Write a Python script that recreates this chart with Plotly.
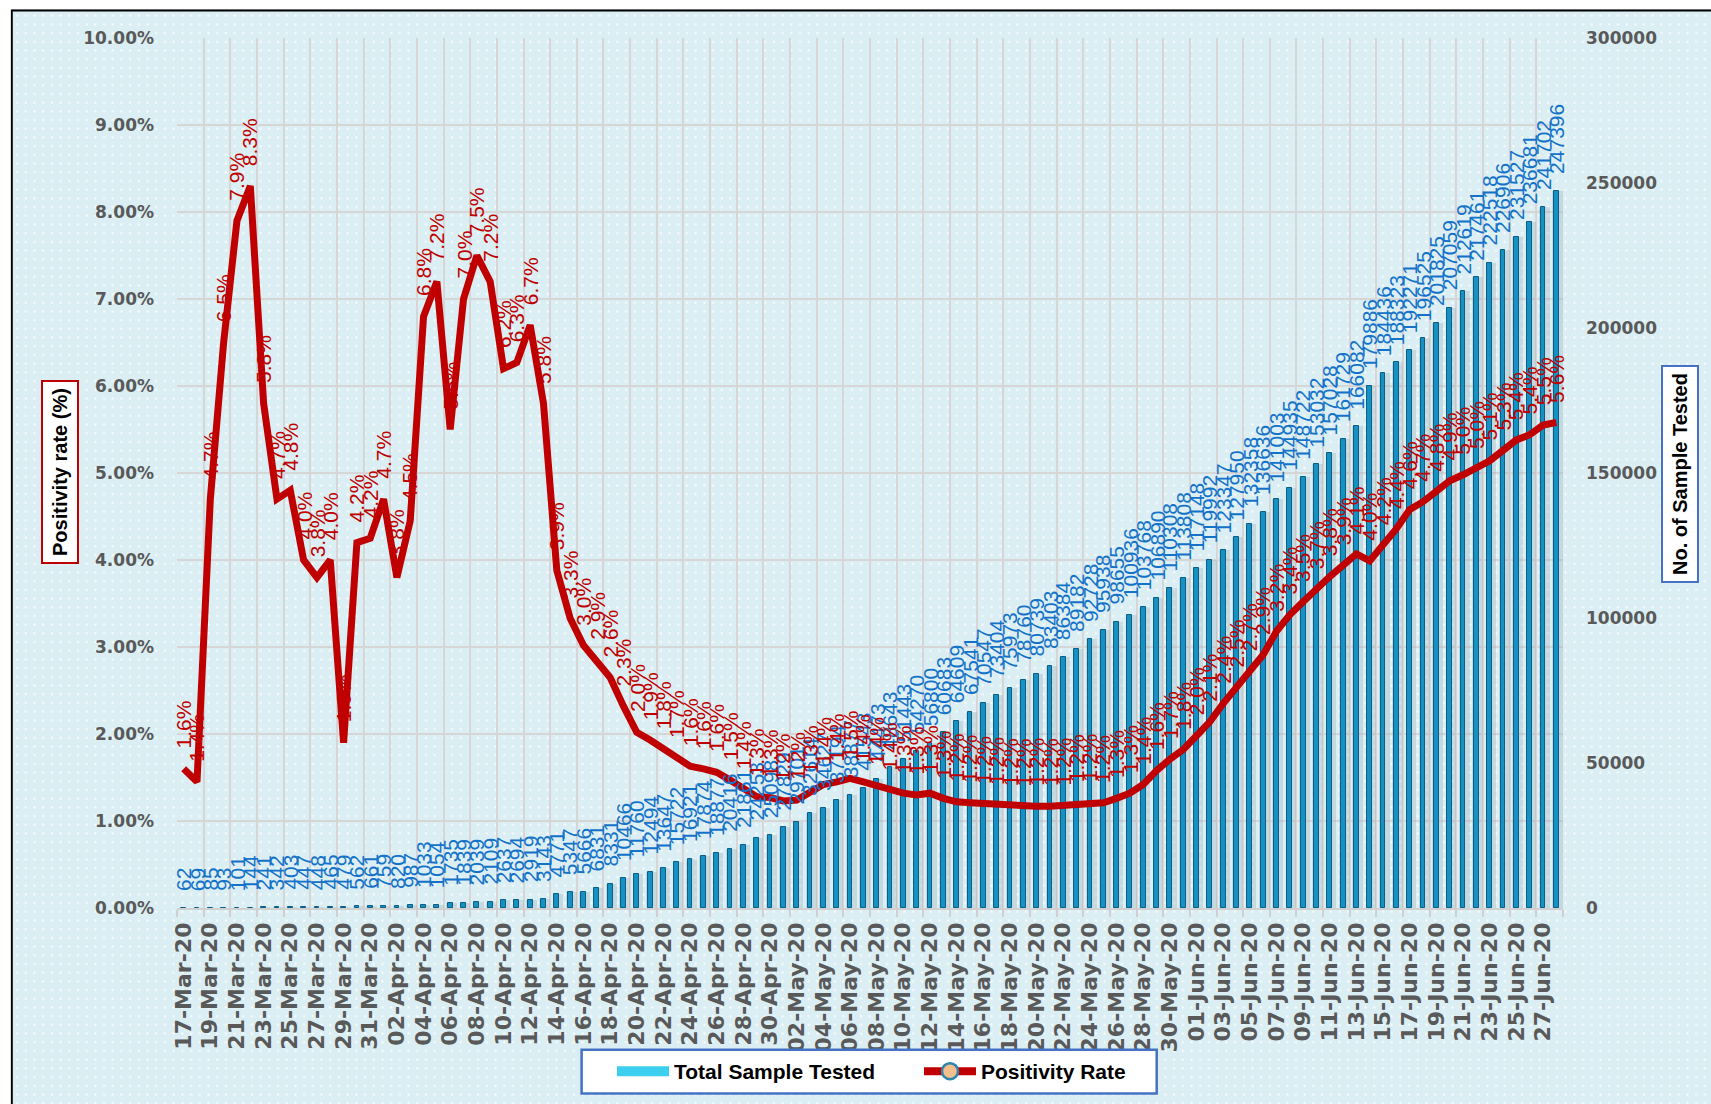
import base64
import pandas as pd
import plotly.graph_objects as go

# ---------------- data ----------------
dates = pd.date_range("2020-03-17", "2020-06-28", freq="D").strftime("%d-%b-%y").tolist()

total_samples = [
    62, 69, 85, 93, 101, 144, 241, 342, 403, 447, 448, 465, 479, 562, 661, 759,
    820, 987, 1033, 1054, 1735, 1839, 2039, 2109, 2637, 2694, 2919, 3143,
    4771, 5347, 5666, 6831, 8331, 10466, 11760, 12494, 13647, 15722, 16921, 17874,
    18877, 20416, 21861, 24253, 25098, 27829, 29701, 32614, 34627, 37194, 38877,
    41543, 44473, 48643, 51443, 54270, 56800, 60683, 64609, 67541, 70547, 73404,
    75973, 78760, 80739, 83403, 86384, 89182, 92728, 95938, 98655, 100936, 103768,
    106890, 110308, 113808, 117148, 119992, 123347, 127950, 132358, 136636, 141003,
    144935, 148722, 153032, 157028, 161729, 166082, 179886, 184436, 188323, 192271,
    196525, 201825, 207059, 212619, 217461, 222518, 226906, 231527, 236681, 241702,
    247396,
]

positivity_pct = [
    1.6, 1.45, 4.7, 6.5, 7.9, 8.3, 5.8, 4.7, 4.8, 4.0, 3.8, 4.0, 1.9, 4.2, 4.25,
    4.7, 3.8, 4.45, 6.8, 7.2, 5.5, 7.0, 7.5, 7.2, 6.2, 6.27, 6.7, 5.8, 3.88, 3.33,
    3.02, 2.85, 2.65, 2.32, 2.02, 1.93, 1.83, 1.72, 1.63, 1.6, 1.56, 1.47, 1.37,
    1.28, 1.27, 1.23, 1.24, 1.32, 1.42, 1.45, 1.49, 1.45, 1.41, 1.35, 1.32, 1.30,
    1.32, 1.26, 1.22, 1.21, 1.20, 1.18, 1.17, 1.17, 1.17, 1.17, 1.18, 1.21, 1.22,
    1.21, 1.26, 1.32, 1.42, 1.58, 1.71, 1.82, 1.98, 2.14, 2.35, 2.54, 2.72, 2.91,
    3.18, 3.37, 3.52, 3.67, 3.81, 3.94, 4.07, 3.99, 4.17, 4.36, 4.58, 4.67, 4.79,
    4.91, 4.98, 5.05, 5.14, 5.26, 5.38, 5.44, 5.55, 5.58,
]
positivity = [v / 100 for v in positivity_pct]

left_axis_max = 0.10
right_axis_max = 300000

# ---------------- styling constants ----------------
W, H = 1711, 1104
ML, MR, MT, MB = 177, 148, 38, 196
PW, PH = W - ML - MR, H - MT - MB


def px_x(p):
    return (p - ML) / PW


def px_y(p):
    return (H - MB - p) / PH


BG = "#DAEEF3"
RED = "#C00000"
BLUE_LBL = "#1473C8"
TICK = "#595959"
LAB_FONT = "Liberation Sans, Arial, sans-serif"
TICK_FONT = "DejaVu Sans, Verdana, sans-serif"

# dotted background as an inline svg
bw, bh = W - 10.7, H - 9.3
svg = f"""<svg xmlns='http://www.w3.org/2000/svg' width='{bw:.1f}' height='{bh:.1f}' viewBox='0 0 {bw:.1f} {bh:.1f}' preserveAspectRatio='none'>
<defs><pattern id='d' x='2' y='2' width='8.7' height='8.7' patternUnits='userSpaceOnUse'>
<rect x='3.4' y='3.4' width='1.9' height='1.9' fill='#ffffff'/></pattern></defs>
<rect width='{bw:.1f}' height='{bh:.1f}' fill='{BG}'/>
<rect width='{bw:.1f}' height='{bh:.1f}' fill='url(#d)'/>
<path d='M1,{bh:.1f} L1,1 L{bw:.1f},1' stroke='#000000' stroke-width='2.2' fill='none'/>
</svg>"""
svg_uri = "data:image/svg+xml;base64," + base64.b64encode(svg.encode()).decode()

fig = go.Figure()

# bar shadow
fig.add_trace(go.Bar(
    x=dates, y=total_samples, yaxis="y", width=0.8, offset=-0.3,
    marker=dict(color="rgba(140,160,172,0.28)", line=dict(width=0)),
    showlegend=False, hoverinfo="skip",
))
# bars
fig.add_trace(go.Bar(
    x=dates, y=total_samples, yaxis="y", width=0.36,
    marker=dict(color="#1591C4", line=dict(color="#0B5E86", width=1)),
    name="Total Sample Tested", showlegend=False,
))
# line
fig.add_trace(go.Scatter(
    x=dates, y=positivity, yaxis="y2", mode="lines",
    line=dict(color=RED, width=7),
    name="Positivity Rate", showlegend=False,
))
# dummy for right axis labels
fig.add_trace(go.Scatter(x=[dates[0]], y=[None], yaxis="y3", mode="markers",
                         showlegend=False, hoverinfo="skip"))
# legend entries
fig.add_trace(go.Scatter(
    x=[None], y=[None], yaxis="y2", mode="lines",
    line=dict(color="#3CCFEF", width=13), name="Total Sample Tested",
))
fig.add_trace(go.Scatter(
    x=[None], y=[None], yaxis="y2", mode="lines+markers",
    line=dict(color=RED, width=8),
    marker=dict(size=16, color="#F3BF8C", line=dict(color="#2C86AE", width=2.5)),
    name="Positivity Rate",
))

annotations = []
for d, v in zip(dates, total_samples):
    annotations.append(dict(
        x=d, y=v, xref="x", yref="y", text=str(v), textangle=-90,
        showarrow=False, yanchor="bottom", xanchor="center", yshift=15,
        font=dict(family=LAB_FONT, size=21, color=BLUE_LBL),
    ))
for d, v in zip(dates, positivity):
    annotations.append(dict(
        x=d, y=v, xref="x", yref="y2", text=f"{v*100:.1f}%", textangle=-90,
        showarrow=False, yanchor="bottom", xanchor="center", yshift=18,
        font=dict(family=LAB_FONT, size=21, color=RED),
    ))

# axis titles in boxes
annotations.append(dict(
    x=px_x(60), y=px_y(472), xref="paper", yref="paper", text="<b>Positivity rate (%)</b>",
    textangle=-90, showarrow=False, xanchor="center", yanchor="middle",
    font=dict(family=LAB_FONT, size=20, color="#000000"),
    bordercolor=RED, borderwidth=2, borderpad=6, bgcolor="#FFFFFF",
))
annotations.append(dict(
    x=px_x(1680.5), y=px_y(474.5), xref="paper", yref="paper", text="<b>No. of Sample Tested</b>",
    textangle=-90, showarrow=False, xanchor="center", yanchor="middle",
    font=dict(family=LAB_FONT, size=20, color="#000000"),
    bordercolor="#4472C4", borderwidth=2, borderpad=6, bgcolor="#FFFFFF",
))

shapes = [dict(
    type="rect", xref="paper", yref="paper",
    x0=px_x(581.6), x1=px_x(1156.7), y0=px_y(1093.4), y1=px_y(1049.7),
    fillcolor="#FFFFFF", line=dict(color="#4472C4", width=2.5), layer="above",
)]

images = [dict(
    source=svg_uri, xref="paper", yref="paper",
    x=px_x(10.7), y=px_y(9.3), sizex=bw / PW, sizey=bh / PH,
    xanchor="left", yanchor="top", sizing="stretch", layer="below",
)]

bold_tick = dict(family=TICK_FONT, size=17, color=TICK, weight="bold")

fig.update_layout(
    width=W, height=H,
    margin=dict(l=ML, r=MR, t=MT, b=MB, pad=0),
    paper_bgcolor="#FFFFFF", plot_bgcolor="rgba(0,0,0,0)",
    barmode="overlay", bargap=0,
    xaxis=dict(
        type="category", range=[-0.5, len(dates) - 0.5], tickson="boundaries",
        dtick=2, tick0=0, tickangle=-90, showgrid=True, gridcolor="#D6D6D6", gridwidth=1.6,
        ticks="outside", ticklen=7, tickcolor="#D0D0D0", tickwidth=1.5,
        showline=True, linecolor="#D0D0D0", linewidth=1.5,
        tickfont=dict(family=TICK_FONT, size=22, color=TICK, weight="bold"),
        ticklabelstandoff=4,
    ),
    yaxis=dict(
        range=[0, right_axis_max], dtick=30000, showgrid=True, gridcolor="#D6D6D6",
        gridwidth=1.6, showticklabels=False, zeroline=False, ticks="", side="right",
    ),
    yaxis2=dict(
        overlaying="y", side="left", range=[0, left_axis_max], dtick=0.01,
        tickformat=".2%", showgrid=False, zeroline=False, ticks="",
        tickfont=bold_tick, ticklabelstandoff=22,
    ),
    yaxis3=dict(
        overlaying="y", side="right", range=[0, right_axis_max], dtick=50000,
        tickformat="d", showgrid=False, zeroline=False, ticks="",
        tickfont=bold_tick, ticklabelstandoff=22,
    ),
    showlegend=True,
    legend=dict(
        orientation="h", x=px_x(612), xanchor="left", y=px_y(1071.5), yanchor="middle",
        bgcolor="rgba(0,0,0,0)", borderwidth=0, itemwidth=52,
        font=dict(family=LAB_FONT, size=21, color="#000000", weight="bold"),
        entrywidth=240, entrywidthmode="pixels",
    ),
    annotations=annotations, shapes=shapes, images=images,
    hovermode=False,
)

fig.write_html(
    "out.html",
    config={"displayModeBar": False},
    post_script="document.body.style.margin='0';document.body.style.overflow='hidden';",
)
